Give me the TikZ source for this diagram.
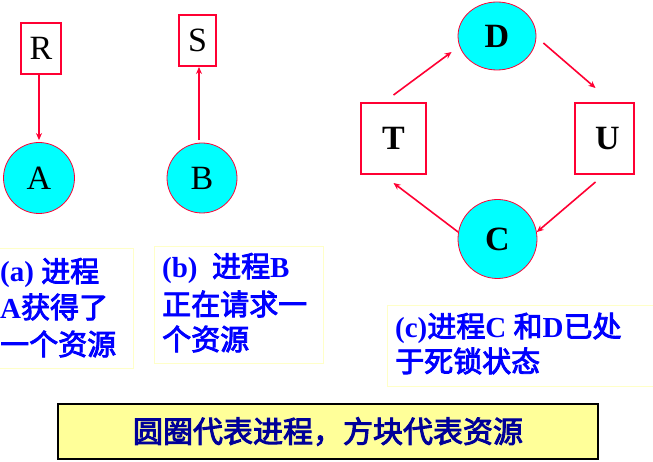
\documentclass[tikz,border=0pt]{standalone}
\usepackage{fontspec}
\setmainfont{Liberation Serif}
\newfontfamily\cjk{Noto Sans CJK SC}[FakeBold=3]
\usetikzlibrary{shapes.geometric,arrows.meta}
\definecolor{rd}{HTML}{FF0033}
\definecolor{cy}{HTML}{00FFFF}
\definecolor{bl}{HTML}{0000FF}
\definecolor{nv}{HTML}{000099}
\definecolor{pyel}{HTML}{FFFFC8}
\definecolor{yel}{HTML}{FFFF99}
\newcommand\zh[1]{{\cjk\mdseries #1}}
\begin{document}
\begin{tikzpicture}[x=1pt,y=-1pt,
  res/.style={rectangle,draw=rd,line width=2pt,inner sep=0pt,font=\fontsize{34}{34}\selectfont},
  proc/.style={circle,draw=rd,line width=0.8pt,fill=cy,inner sep=0pt,font=\fontsize{34}{34}\selectfont},
  boldletter/.style={font=\fontsize{34}{34}\selectfont\bfseries},
  arr/.style={draw=rd,line width=1.6pt,-{Stealth[length=7pt,width=6pt]}},
  lbl/.style={anchor=base west,inner sep=0pt,text=bl,font=\fontsize{29}{35}\selectfont\bfseries},
  txtbox/.style={draw=pyel,line width=1pt}]
\useasboundingbox (0,0) rectangle (653,462);
\fill[white] (0,0) rectangle (653,462);
% (a)
\node[res,minimum width=40pt,minimum height=51pt] (R) at (41,48.5) {R};
\node[proc,minimum size=71pt] (A) at (39,178) {A};
\draw[arr,shorten >=2pt] (R.south -| A) -- (A.north);
% (b)
\node[res,minimum width=37pt,minimum height=51pt] (S) at (197.5,40.5) {S};
\node[proc,minimum size=70pt] (B) at (202,178) {B};
\draw[arr,shorten <=3pt] ([xshift=1.5pt]S.south |- B.north) -- ([xshift=1.5pt]S.south);
% (c)
\node[res,boldletter,minimum width=65pt,minimum height=71pt] (T) at (393.5,138.5) {T};
\node[res,boldletter,minimum width=59pt,minimum height=71pt] (U) at (604.5,138.5) {\hspace*{6pt}U};
\node[proc,ellipse,boldletter,minimum width=78pt,minimum height=68pt] (D) at (497,36) {D};
\node[proc,boldletter,minimum size=79pt] (C) at (497.5,239) {C};
\draw[arr] ([yshift=7pt]T.north) -- ([xshift=-6pt,yshift=-16pt]D.west);
\draw[arr] ([xshift=7pt,yshift=-7pt]D.east) -- ([xshift=-9pt,yshift=14pt]U.north);
\draw[arr] ([xshift=-9pt,yshift=-7pt]U.south) -- (C.10);
\draw[arr] (C.170) -- ([yshift=-8pt]T.south);
% text boxes
\draw[txtbox] (-2,249) rectangle (133,368);
\node[lbl] (a1) at (0,282) {(a) \zh{进程}};
\node[lbl] (a2) at (0,318) {A\zh{获得了}};
\node[lbl] (a3) at (0,355) {\zh{一个资源}};
\draw[txtbox] (154,247) rectangle (323,363);
\node[lbl] (b1) at (162,277) {(b)\ \ \zh{进程}B};
\node[lbl] (b2) at (162,315) {\zh{正在请求一}};
\node[lbl] (b3) at (162,350) {\zh{个资源}};
\draw[txtbox] (387,305) rectangle (656,386);
\node[lbl] (c1) at (395,337) {(c)\zh{进程}C \zh{和}D\zh{已处}};
\node[lbl] (c2) at (395,372) {\zh{于死锁状态}};
% legend
\node[draw=black,fill=yel,line width=1.2pt,minimum width=540pt,minimum height=55pt,inner sep=0pt,
      text=nv,font=\fontsize{30}{30}\selectfont] (legend) at (328,431.5) {\zh{圆圈代表进程，方块代表资源}};
\end{tikzpicture}
\end{document}
